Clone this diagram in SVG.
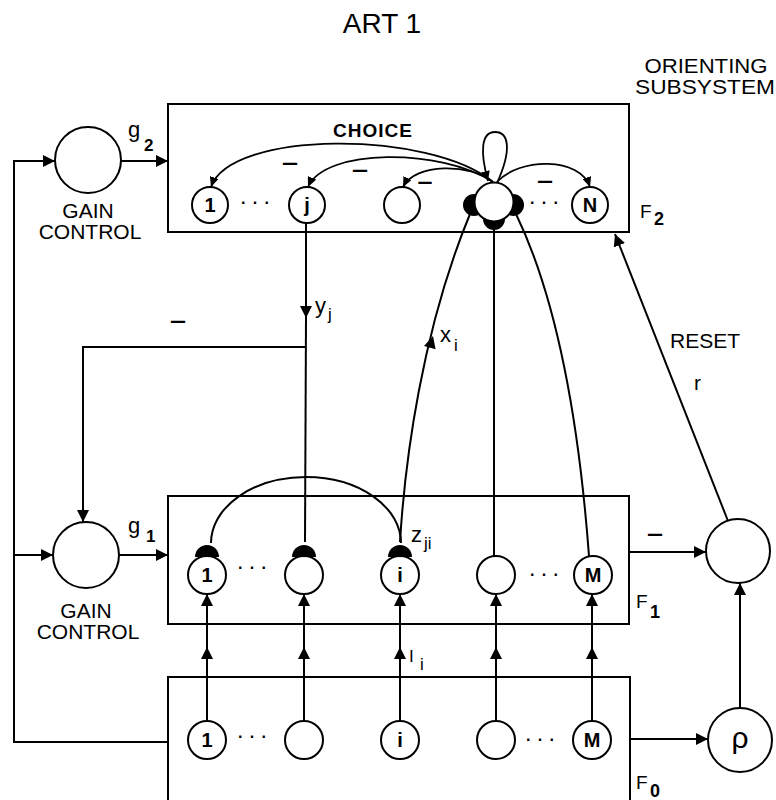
<svg xmlns="http://www.w3.org/2000/svg" xmlns:xlink="http://www.w3.org/1999/xlink" width="776" height="800" viewBox="0 0 776 800">
<style>
  text { font-family: "Liberation Sans", Arial, Helvetica, sans-serif; fill: #000; }
  .lbl { font-size: 21px; }
  .title { font-size: 28px; }
  .choice { font-size: 19px; font-weight: bold; }
  .nl { font-size: 20px; font-weight: bold; text-anchor: middle; }
  .dots { font-size: 16px; font-weight: bold; text-anchor: middle; letter-spacing: 1px; }
  .minus { font-size: 22px; font-weight: bold; text-anchor: middle; }
  .sym { font-size: 22px; }
  .sub { font-size: 17px; }
  .fl { font-size: 19px; }
  .fs { font-size: 18px; font-weight: bold; }
  .box { fill: none; stroke: #000; stroke-width: 2; }
  .node { fill: #fff; stroke: #000; stroke-width: 2; }
  .big { fill: #fff; stroke: #000; stroke-width: 2; }
  .cap { fill: #000; stroke: none; }
  .ln { fill: none; stroke: #000; stroke-width: 2; }
  .arw { fill: none; stroke: #000; stroke-width: 2; marker-end: url(#arr); }
  .arws { fill: none; stroke: #000; stroke-width: 1.8; marker-end: url(#arrs); }
</style>
<defs>
  <marker id="arr" viewBox="0 0 12 12" refX="12" refY="6" markerWidth="12" markerHeight="12" orient="auto" markerUnits="userSpaceOnUse">
    <path d="M0 0 L12 6 L0 12 Z" fill="#000"/>
  </marker>
  <marker id="arrs" viewBox="0 0 10 9" refX="10" refY="4.5" markerWidth="10" markerHeight="9" orient="auto" markerUnits="userSpaceOnUse">
    <path d="M0 0 L10 4.5 L0 9 Z" fill="#000"/>
  </marker>
  <path id="ah" d="M0 0 L-12 -6 L-12 6 Z" fill="#000"/>
</defs>

<rect width="776" height="800" fill="#fff"/>

<text class="title" x="382" y="33" text-anchor="middle">ART 1</text>
<text class="lbl" x="706" y="73" text-anchor="middle" textLength="123" lengthAdjust="spacingAndGlyphs">ORIENTING</text>
<text class="lbl" x="705" y="94" text-anchor="middle" textLength="140" lengthAdjust="spacingAndGlyphs">SUBSYSTEM</text>

<!-- Fields (boxes) -->
<g id="F2">
  <rect class="box" x="168" y="104" width="461" height="128"/>
  <text class="choice" x="373" y="137" text-anchor="middle" letter-spacing="1">CHOICE</text>
  <text class="fl" x="640" y="218">F</text>
  <text class="fs" x="654" y="225">2</text>
</g>
<g id="F1">
  <rect class="box" x="168" y="496" width="461" height="128"/>
  <text class="fl" x="636" y="608">F</text>
  <text class="fs" x="650" y="618">1</text>
</g>
<g id="F0">
  <path class="box" d="M168 800 L168 677 L630 677 L630 800"/>
  <text class="fl" x="636" y="789">F</text>
  <text class="fs" x="650" y="797">0</text>
</g>

<!-- Connectors -->
<g id="connectors">
  <path class="arw" d="M168 742 L14 742 L14 161 L55 161"/>
  <path class="arw" d="M14 555 L53 555"/>
  <path class="arw" d="M121 161 L168 161"/>
  <path class="arw" d="M119 555 L168 555"/>
  <path class="arw" d="M306 223 L306 318"/>
  <path class="ln" d="M306 318 L305 542"/>
  <path class="arw" d="M305 347 L83 347 L83 522"/>
  <path class="ln" d="M400 542 C405 460 422 330 470 214"/>
  <use xlink:href="#ah" href="#ah" transform="translate(433,336) rotate(-74.6)"/>
  <path class="ln" d="M494 229 L494 556"/>
  <path class="ln" d="M516 214 Q572 330 589 556"/>
  <path class="ln" d="M211 543 A95 66 0 0 1 401 543"/>
  <path class="arws" d="M497 183 C512 150 509 132 495 132 C481 132 480 152 488 181"/>
  <path class="arws" d="M493 182 C430 130 230 130 211 187"/>
  <path class="arws" d="M493 182 C440 148 325 148 308 187"/>
  <path class="arws" d="M493 182 C470 163 415 163 403 187"/>
  <path class="arws" d="M497 182 C520 157 580 157 590 187"/>
  <path class="arw" d="M207 721 L207 647"/><path class="arw" d="M207 647 L207 594"/>
  <path class="arw" d="M304 721 L304 647"/><path class="arw" d="M304 647 L304 594"/>
  <path class="arw" d="M400 721 L400 647"/><path class="arw" d="M400 647 L400 594"/>
  <path class="arw" d="M496 721 L496 647"/><path class="arw" d="M496 647 L496 594"/>
  <path class="arw" d="M592 721 L592 647"/><path class="arw" d="M592 647 L592 594"/>
  <path class="arw" d="M629 552 L706 552"/>
  <path class="arw" d="M630 739 L708 739"/>
  <path class="arw" d="M740 708 L740 583"/>
  <path class="arw" d="M728 521 L615 234"/>
</g>

<!-- Connector labels -->
<g id="labels">
  <text class="sym" x="128" y="137">g</text>
  <text class="sub" x="144" y="151" style="font-weight:bold">2</text>
  <text class="sym" x="128" y="533">g</text>
  <text class="sub" x="146" y="542" style="font-weight:bold">1</text>
  <text class="sym" x="315" y="313">y</text>
  <text class="sub" x="328" y="320">j</text>
  <text class="sym" x="440" y="342">x</text>
  <text class="sub" x="454" y="351">i</text>
  <text class="sym" x="411" y="542">z</text>
  <text class="sub" x="424" y="549">ji</text>
  <text x="409" y="662" style="font-size:17px">I</text>
  <text class="sub" x="420" y="670">i</text>
  <text class="lbl" x="670" y="348">RESET</text>
  <text class="lbl" x="694" y="390">r</text>
  <text class="minus" x="290" y="170" textLength="16" lengthAdjust="spacingAndGlyphs">–</text>
  <text class="minus" x="360" y="177" textLength="16" lengthAdjust="spacingAndGlyphs">–</text>
  <text class="minus" x="425" y="189" textLength="15" lengthAdjust="spacingAndGlyphs">–</text>
  <text class="minus" x="545" y="188" textLength="16" lengthAdjust="spacingAndGlyphs">–</text>
  <text class="minus" x="178" y="328" textLength="16" lengthAdjust="spacingAndGlyphs">–</text>
  <text class="minus" x="655" y="541" textLength="16" lengthAdjust="spacingAndGlyphs">–</text>
</g>

<!-- Gain controls -->
<g id="gain2">
  <circle class="node" cx="88" cy="160" r="33"/>
  <text class="lbl" x="88" y="218" text-anchor="middle">GAIN</text>
  <text class="lbl" x="90" y="239" text-anchor="middle">CONTROL</text>
</g>
<g id="gain1">
  <circle class="node" cx="86" cy="555" r="33"/>
  <text class="lbl" x="86" y="618" text-anchor="middle">GAIN</text>
  <text class="lbl" x="88" y="639" text-anchor="middle">CONTROL</text>
</g>

<!-- F2 nodes -->
<g id="f2-1"><circle class="node" cx="210" cy="205" r="18"/><text class="nl" x="210" y="212">1</text></g>
<text class="dots" x="256" y="208">· · ·</text>
<g id="f2-j"><circle class="node" cx="307" cy="205" r="18"/><text class="nl" x="307" y="212">j</text></g>
<g id="f2-3"><circle class="node" cx="402" cy="205" r="18"/></g>
<g id="f2-winner">
  <circle class="cap" cx="474" cy="205" r="11"/>
  <circle class="cap" cx="513" cy="205" r="11"/>
  <circle class="cap" cx="494" cy="219" r="11"/>
  <circle class="big" cx="494" cy="202" r="19.5"/>
</g>
<text class="dots" x="545" y="208">· · ·</text>
<g id="f2-N"><circle class="node" cx="590" cy="205" r="18"/><text class="nl" x="590" y="212">N</text></g>

<!-- F1 nodes -->
<g id="f1-1"><path class="cap" d="M195 557 A12 12 0 0 1 219 557 Z"/><circle class="node" cx="207" cy="575" r="19"/><text class="nl" x="207" y="582">1</text></g>
<text class="dots" x="253" y="573">· · ·</text>
<g id="f1-2"><path class="cap" d="M292 557 A12 12 0 0 1 316 557 Z"/><circle class="node" cx="304" cy="575" r="19"/></g>
<g id="f1-i"><path class="cap" d="M388 557 A12 12 0 0 1 412 557 Z"/><circle class="node" cx="400" cy="575" r="19"/><text class="nl" x="400" y="582">i</text></g>
<g id="f1-4"><circle class="node" cx="496" cy="575" r="19"/></g>
<text class="dots" x="545" y="580">· · ·</text>
<g id="f1-M"><circle class="node" cx="593" cy="575" r="19"/><text class="nl" x="593" y="582">M</text></g>

<!-- F0 nodes -->
<g id="f0-1"><circle class="node" cx="207" cy="740" r="19"/><text class="nl" x="207" y="747">1</text></g>
<text class="dots" x="253" y="742">· · ·</text>
<g id="f0-2"><circle class="node" cx="304" cy="740" r="19"/></g>
<g id="f0-i"><circle class="node" cx="400" cy="740" r="19"/><text class="nl" x="400" y="747">i</text></g>
<g id="f0-4"><circle class="node" cx="496" cy="740" r="19"/></g>
<text class="dots" x="541" y="745">· · ·</text>
<g id="f0-M"><circle class="node" cx="592" cy="740" r="19"/><text class="nl" x="592" y="747">M</text></g>

<!-- Orienting subsystem -->
<g id="orienting"><circle class="node" cx="738" cy="551" r="32"/></g>
<g id="rho"><circle class="node" cx="740" cy="740" r="32"/><text x="740" y="748" text-anchor="middle" style="font-size:30px">ρ</text></g>
</svg>
